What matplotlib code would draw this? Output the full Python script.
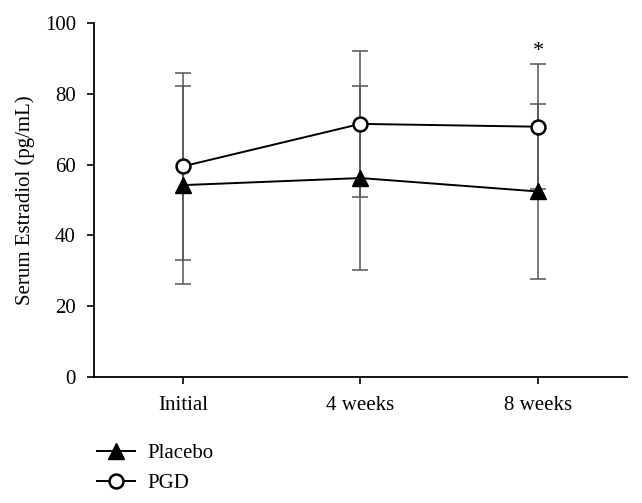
import matplotlib
matplotlib.use("Agg")
import matplotlib.pyplot as plt
from matplotlib.lines import Line2D

plt.rcParams["font.family"] = ["Liberation Serif", "DejaVu Serif"]

# Data
timepoints = ["Initial", "4 weeks", "8 weeks"]
placebo_mean = [54.2, 56.2, 52.4]
placebo_sd = [28.0, 26.0, 24.8]
pgd_mean = [59.5, 71.5, 70.7]
pgd_sd = [26.4, 20.7, 17.6]

fig = plt.figure(figsize=(6.42, 5.03), dpi=100)
ax = fig.add_axes([0.1464, 0.2505, 0.8302, 0.7038])

x = list(range(len(timepoints)))
err_color = "#555555"

# Error bars (drawn under the markers)
ax.errorbar(x, placebo_mean, yerr=placebo_sd, fmt="none", ecolor=err_color,
            elinewidth=1.1, capsize=6, capthick=1.1, zorder=1)
ax.errorbar(x, pgd_mean, yerr=pgd_sd, fmt="none", ecolor=err_color,
            elinewidth=1.1, capsize=6, capthick=1.1, zorder=1)

# Lines with markers
ax.plot(x, placebo_mean, color="black", linewidth=1.4, marker="^",
        markersize=11, markerfacecolor="black", markeredgecolor="black", zorder=3)
ax.plot(x, pgd_mean, color="black", linewidth=1.4, marker="o",
        markersize=10, markerfacecolor="white", markeredgecolor="black",
        markeredgewidth=1.8, zorder=3)

# Significance mark
ax.text(x[2], pgd_mean[2] + pgd_sd[2] + 1.0, "*", ha="center", va="bottom", fontsize=16)

ax.set_xlim(-0.5, 2.5)
ax.set_ylim(0, 100)
ax.set_xticks(x)
ax.set_xticklabels(timepoints)
ax.set_yticks([0, 20, 40, 60, 80, 100])
ax.set_ylabel("Serum Estradiol (pg/mL)", fontsize=15, labelpad=7)

for side in ["top", "right"]:
    ax.spines[side].set_visible(False)
for side in ["left", "bottom"]:
    ax.spines[side].set_linewidth(1.3)
ax.tick_params(axis="both", labelsize=15, length=5, width=1.2, direction="out")
ax.tick_params(axis="x", pad=9)
ax.tick_params(axis="y", pad=8)

# Legend below the plot
handles = [
    Line2D([], [], color="black", linewidth=1.4, marker="^", markersize=11,
           markerfacecolor="black"),
    Line2D([], [], color="black", linewidth=1.4, marker="o", markersize=10,
           markerfacecolor="white", markeredgewidth=1.8),
]
fig.legend(handles, ["Placebo", "PGD"], loc="lower left",
           bbox_to_anchor=(0.122, -0.018), frameon=False, fontsize=15,
           handlelength=1.8, labelspacing=0.5, handletextpad=0.6)

fig.savefig("out.png", dpi=100, facecolor="white")
